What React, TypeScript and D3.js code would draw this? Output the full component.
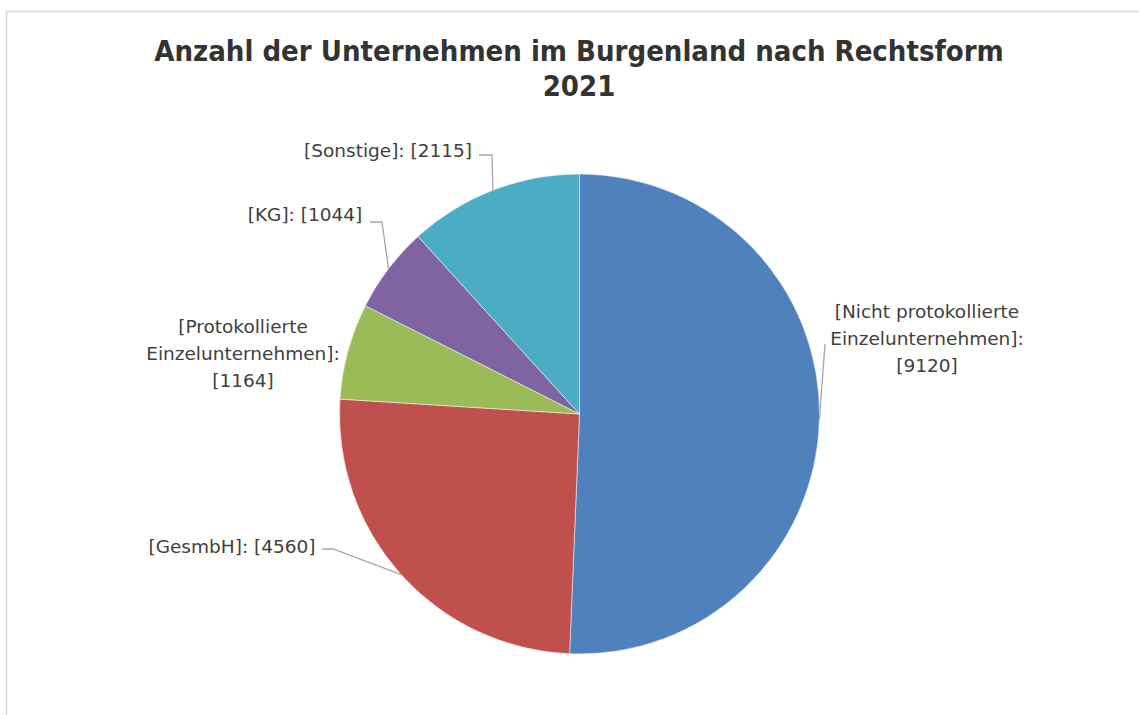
import { useRef, useEffect } from 'react';
import * as d3 from 'd3';

// Unternehmen im Burgenland nach Rechtsform, 2021
const categories = [
  ['Nicht protokollierte', 'Einzelunternehmen]:'],
  ['GesmbH]:'],
  ['Protokollierte', 'Einzelunternehmen]:'],
  ['KG]:'],
  ['Sonstige]:'],
];
const values = [9120, 4560, 1164, 1044, 2115];
const colors = ['#4F81BD', '#C0504D', '#9BBB59', '#8064A2', '#4BACC6'];

// label placement (layout only): center x, first line y, inline?, leader start
const labelLayout = [
  { x: 927, y: 318, inline: false, leader: [[825, 344]] },
  { x: 232, y: 553, inline: true, leader: [[322, 549], [333, 549]] },
  { x: 243, y: 333, inline: false, leader: null },
  { x: 305, y: 221, inline: true, leader: [[370, 222], [382, 222]] },
  { x: 388, y: 157, inline: true, leader: [[479, 155], [492, 155]] },
];

const W = 1139;
const H = 715;
const TITLE_FONT = '"DejaVu Sans Condensed", "DejaVu Sans", sans-serif';
const LABEL_FONT = '"DejaVu Sans", sans-serif';

export default function App() {
  const svgRef = useRef<SVGSVGElement>(null);

  useEffect(() => {
    document.body.style.margin = '0';
    const svg = d3.select(svgRef.current);
    svg.selectAll('*').remove();

    // chart frame
    svg.append('rect')
      .attr('x', 6.5).attr('y', 11.5)
      .attr('width', W + 20).attr('height', H + 20)
      .attr('fill', '#fff')
      .attr('stroke', '#d9d9d9').attr('stroke-width', 1.5);

    // title
    const title = svg.append('text')
      .attr('text-anchor', 'middle')
      .attr('font-family', TITLE_FONT)
      .attr('font-weight', 'bold')
      .attr('font-size', 29)
      .attr('fill', '#333333');
    title.append('tspan').attr('x', 579).attr('y', 61).text('Anzahl der Unternehmen im Burgenland nach Rechtsform');
    title.append('tspan').attr('x', 579).attr('y', 96).text('2021');

    const cx = 579.5;
    const cy = 414;
    const r = 240;

    const pie = d3.pie<number>().sort(null).value(function (d) { return d; });
    const arcs = pie(values);
    const arc = d3.arc<d3.PieArcDatum<number>>().innerRadius(0).outerRadius(r);

    const g = svg.append('g').attr('transform', 'translate(' + cx + ',' + cy + ')');
    g.selectAll('path')
      .data(arcs)
      .join('path')
      .attr('d', arc)
      .attr('fill', function (d, i) { return colors[i]; })
      .attr('stroke', '#fff')
      .attr('stroke-width', 0.5);

    // leader lines to the outer edge at each slice's mid angle
    arcs.forEach(function (d, i) {
      const lay = labelLayout[i];
      if (!lay.leader) return;
      const mid = (d.startAngle + d.endAngle) / 2;
      const end: [number, number] = [cx + r * Math.sin(mid), cy - r * Math.cos(mid)];
      const pts = lay.leader.concat([end]) as [number, number][];
      svg.append('path')
        .attr('d', d3.line()(pts))
        .attr('fill', 'none')
        .attr('stroke', '#a6a6a6')
        .attr('stroke-width', 1.3);
    });

    // data labels
    arcs.forEach(function (d, i) {
      const lay = labelLayout[i];
      const lines = categories[i].slice();
      lines[0] = '[' + lines[0];
      const t = svg.append('text')
        .attr('text-anchor', 'middle')
        .attr('font-family', LABEL_FONT)
        .attr('font-size', 18.5)
        .attr('fill', '#404040');
      if (lay.inline) {
        t.append('tspan').attr('x', lay.x).attr('y', lay.y)
          .text(lines[0] + ' [' + d.value + ']');
      } else {
        lines.concat(['[' + d.value + ']']).forEach(function (s, k) {
          t.append('tspan').attr('x', lay.x).attr('y', lay.y + k * 27).text(s);
        });
      }
    });
  }, []);

  return <svg ref={svgRef} width={W} height={H} style={{ display: 'block' }} />;
}
